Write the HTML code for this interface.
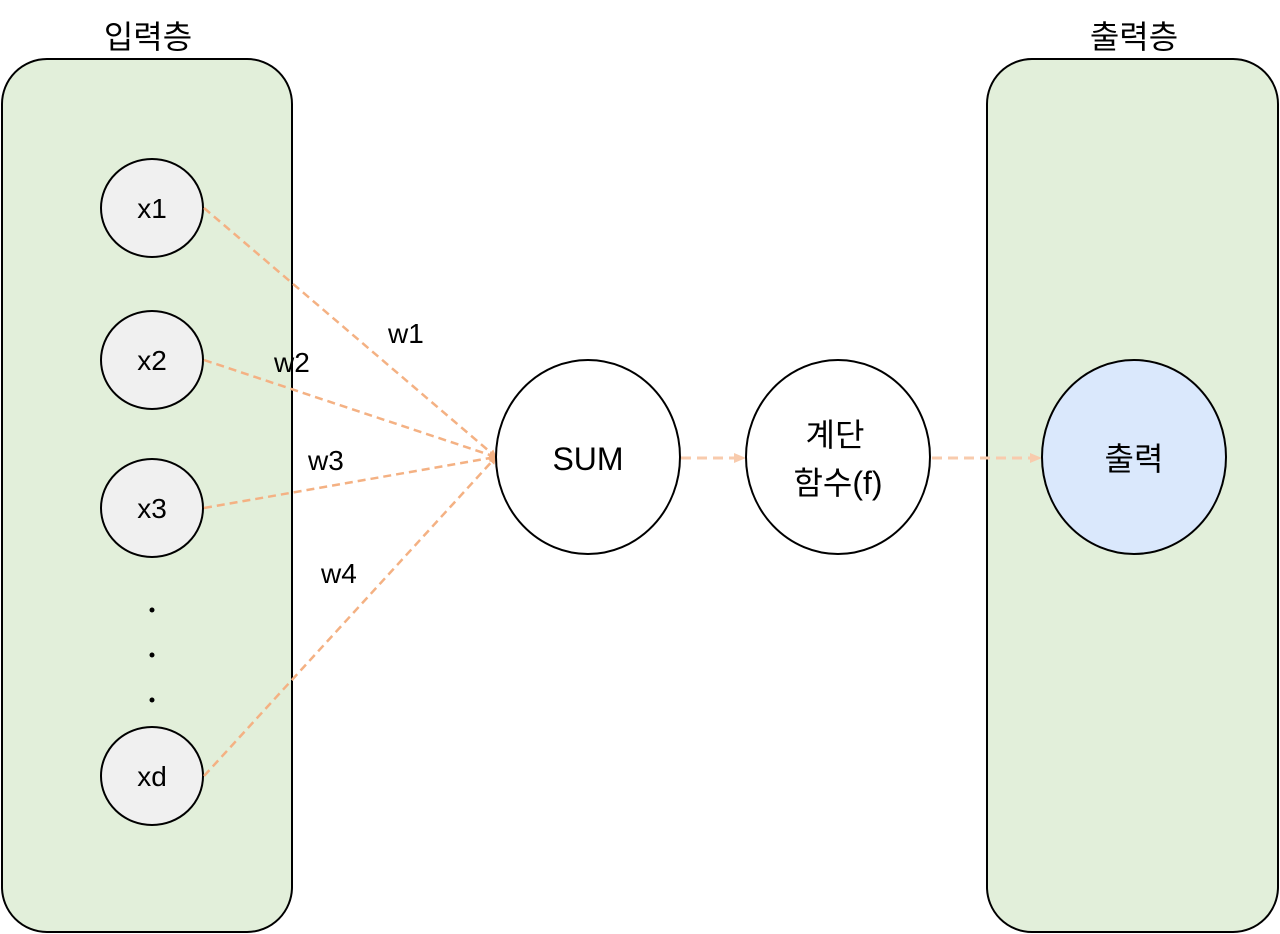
<!DOCTYPE html>
<html><head><meta charset="utf-8"><style>body{margin:0;background:#fff}svg{display:block}text{font-family:"Liberation Sans","Noto Sans CJK KR",sans-serif;fill:#000}</style></head><body>
<svg width="1280" height="934" viewBox="0 0 1280 934" xmlns="http://www.w3.org/2000/svg">
<defs>
<marker id="a" markerWidth="8" markerHeight="8" refX="7" refY="4" orient="auto" markerUnits="userSpaceOnUse"><path d="M0,0 L8,4 L0,8 Z" fill="#f4b183"/></marker>
<marker id="b" markerWidth="12" markerHeight="10" refX="11" refY="5" orient="auto" markerUnits="userSpaceOnUse"><path d="M0,0 L12,5 L0,10 Z" fill="#f8cbad"/></marker>
</defs>
<text x="148" y="48" font-size="32" text-anchor="middle">입력층</text>
<text x="1134" y="48" font-size="32" text-anchor="middle">출력층</text>
<rect x="2" y="59" width="290" height="873" rx="45" fill="#e2efda" stroke="#000" stroke-width="2"/>
<rect x="987" y="59" width="291" height="873" rx="45" fill="#e2efda" stroke="#000" stroke-width="2"/>
<g fill="#f0f0f0" stroke="#000" stroke-width="2">
<ellipse cx="152" cy="208" rx="51" ry="49"/>
<ellipse cx="152" cy="360" rx="51" ry="49"/>
<ellipse cx="152" cy="508" rx="51" ry="49"/>
<ellipse cx="152" cy="776" rx="51" ry="49"/>
</g>
<g font-size="28" text-anchor="middle">
<text x="152" y="218">x1</text><text x="152" y="370">x2</text><text x="152" y="518">x3</text><text x="152" y="786">xd</text>
</g>
<circle cx="152" cy="610" r="2.5" fill="#000"/><circle cx="152" cy="655" r="2.5" fill="#000"/><circle cx="152" cy="700" r="2.5" fill="#000"/>
<g stroke="#f4b183" stroke-width="2.5" stroke-dasharray="8,5" fill="none" marker-end="url(#a)">
<line x1="204" y1="208" x2="496" y2="457"/>
<line x1="204" y1="360" x2="496" y2="457"/>
<line x1="204" y1="508" x2="496" y2="457"/>
<line x1="204" y1="776" x2="496" y2="457"/>
</g>
<g stroke="#f8cbad" stroke-width="3" stroke-dasharray="10,6" fill="none" marker-end="url(#b)">
<line x1="681" y1="458" x2="745" y2="458"/>
<line x1="932" y1="458" x2="1041" y2="458"/>
</g>
<g font-size="28">
<text x="388" y="343">w1</text><text x="274" y="372">w2</text><text x="308" y="470">w3</text><text x="321" y="583">w4</text>
</g>
<ellipse cx="588" cy="457" rx="92" ry="97" fill="#fff" stroke="#000" stroke-width="2"/>
<ellipse cx="838" cy="457" rx="92" ry="97" fill="#fff" stroke="#000" stroke-width="2"/>
<ellipse cx="1134" cy="457" rx="92" ry="97" fill="#dae8fc" stroke="#000" stroke-width="2"/>
<text x="588" y="470" font-size="32" text-anchor="middle">SUM</text>
<text x="835" y="446" font-size="32" text-anchor="middle">계단</text>
<text x="838" y="494" font-size="32" text-anchor="middle">함수(f)</text>
<text x="1134" y="470" font-size="32" text-anchor="middle">출력</text>
</svg>
</body></html>
